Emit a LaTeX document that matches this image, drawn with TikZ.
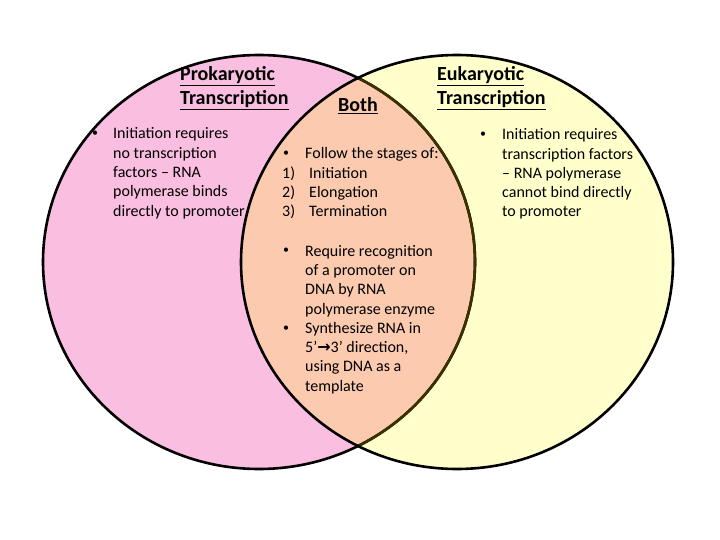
\documentclass[tikz,border=0pt]{standalone}
\usepackage{fontspec}
\setmainfont{Carlito}
\newfontfamily\arrowfont{DejaVu Sans}
\usetikzlibrary{positioning}
\definecolor{prokpink}{HTML}{FABEE1}
\definecolor{eukyellow}{HTML}{FFFFCC}
\definecolor{bothpeach}{HTML}{FBCAAF}
\definecolor{rimolive}{HTML}{3A3000}
\tikzset{prokdisk/.style={fill=prokpink},eukdisk/.style={fill=eukyellow},bothlens/.style={fill=bothpeach}, rim/.style={draw=black,line width=2.6pt},innerrim/.style={draw=rimolive,line width=2.6pt}, heading/.style={font=\fontsize{20}{24.4}\selectfont\bfseries,align=left,anchor=base west,inner sep=0pt},bodytext/.style={font=\fontsize{16}{19.3}\selectfont,align=left,anchor=base west,inner sep=0pt},dotmark/.style={font=\fontsize{12}{14}\selectfont,anchor=base west,inner sep=0pt}}

\begin{document}
\begin{tikzpicture}[x=1pt,y=-1pt]
\useasboundingbox (0,0) rectangle (720,540);
\fill[prokdisk] (259,262) ellipse [x radius=216pt,y radius=207pt];
\fill[eukdisk] (457,262) ellipse [x radius=216pt,y radius=207pt];
\begin{scope}
\clip (259,262) ellipse [x radius=216pt,y radius=207pt];
\fill[bothlens] (457,262) ellipse [x radius=216pt,y radius=207pt];
\end{scope}
\draw[rim] (259,262) ellipse [x radius=216pt,y radius=207pt];
\begin{scope}
\clip (457,262) ellipse [x radius=216pt,y radius=207pt];
\draw[innerrim] (259,262) ellipse [x radius=216pt,y radius=207pt];
\end{scope}
\draw[rim] (457,262) ellipse [x radius=216pt,y radius=207pt];
% headings (base = last line)
\node[heading] (prokhead) at (180,105) {\underline{Prokaryotic}\\\underline{Transcription}};
\node[heading] (bothhead) at (338,112) {\underline{Both}};
\node[heading] (eukhead) at (437,105) {\underline{Eukaryotic}\\\underline{Transcription}};
% prokaryotic side
\node[dotmark] (prokdot) at (92,137) {•};
\node[bodytext] (proktext) at (113,216) {Initiation requires\\no transcription\\factors – RNA\\polymerase binds\\directly to promoter};
% both
\node[dotmark] (stagedot) at (283,157) {•};
\node[bodytext] (stagetext) at (305,159) {Follow the stages of:};
\node[bodytext] (stagenum) at (282,217) {1)\\2)\\3)};
\node[bodytext] (stagelist) at (309,217) {Initiation\\Elongation\\Termination};
\node[dotmark] (promdot) at (283,254) {•};
\node[bodytext] (promtext) at (305,314) {Require recognition\\of a promoter on\\DNA by RNA\\polymerase enzyme};
\node[dotmark] (synthdot) at (283,331) {•};
\node[bodytext] (synthtext) at (305,391) {Synthesize RNA in\\5’{\arrowfont\bfseries →}3’ direction,\\using DNA as a\\template};
% eukaryotic side
\node[dotmark] (eukdot) at (480,138) {•};
\node[bodytext] (euktext) at (502,217) {Initiation requires\\transcription factors\\– RNA polymerase\\cannot bind directly\\to promoter};
\end{tikzpicture}
\end{document}
